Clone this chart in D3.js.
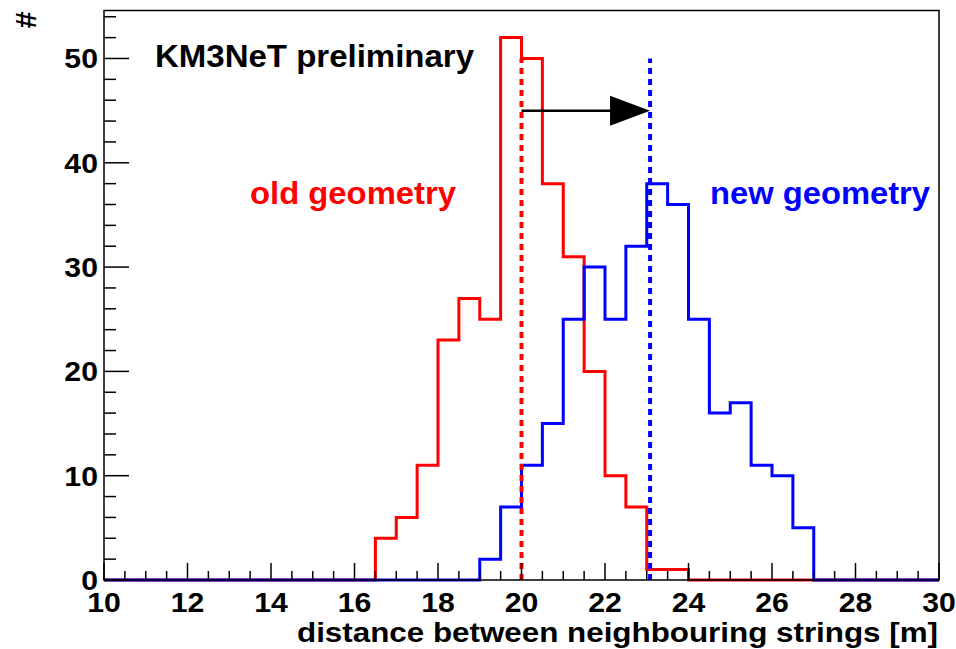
<!DOCTYPE html>
<html>
<head>
<meta charset="utf-8">
<script src="https://cdn.jsdelivr.net/npm/d3@7"></script>
<style>
  html, body { margin: 0; padding: 0; background: #fff; }
  svg { display: block; }
  text { font-family: "Liberation Sans", Arial, Helvetica, sans-serif; font-weight: bold; }
</style>
</head>
<body>
<svg id="chart" width="956" height="649"></svg>
<script>
// Histogram binning: 40 bins of 0.5 m between 10 and 30 m
const xLow = 10, xHigh = 30, binWidth = 0.5;
const binEdges = d3.range(xLow, xHigh + binWidth / 2, binWidth);

// Entries per bin (distance between neighbouring strings)
const oldGeometry = [
  0, 0, 0, 0, 0, 0, 0, 0, 0, 0, 0, 0, 0,
  4, 6, 11, 23, 27, 25, 52, 50, 38, 31, 20, 10, 7, 1, 1,
  0, 0, 0, 0, 0, 0, 0, 0, 0, 0, 0, 0
];
const newGeometry = [
  0, 0, 0, 0, 0, 0, 0, 0, 0, 0, 0, 0, 0, 0, 0, 0, 0, 0,
  2, 7, 11, 15, 25, 30, 25, 32, 38, 36, 25, 16, 17, 11, 10, 5,
  0, 0, 0, 0, 0, 0
];

// Mean distances, drawn as dotted markers, and the shift arrow height
const oldMean = 20.0;
const newMean = 23.08;
const markerTop = 50;
const arrowLevel = 45;

// Axis settings
const xTicks = [10, 12, 14, 16, 18, 20, 22, 24, 26, 28, 30];
const yTicks = [0, 10, 20, 30, 40, 50];
const yMax = 54.6;

const labels = {
  title: "KM3NeT preliminary",
  oldLabel: "old geometry",
  newLabel: "new geometry",
  xTitle: "distance between neighbouring strings [m]",
  yTitle: "#"
};

const RED = "#ff0000", BLUE = "#0000ff";

const svg = d3.select("#chart");
const frame = { left: 104, right: 939, top: 10.5, bottom: 580 };

const x = d3.scaleLinear().domain([xLow, xHigh]).range([frame.left, frame.right]);
const y = d3.scaleLinear().domain([0, yMax]).range([frame.bottom, frame.top]);

// Bold text slightly widened, as in the ROOT canvas output
function wideText(sel, sx) {
  return sel.attr("transform", function () {
    const tx = +this.getAttribute("x"), ty = +this.getAttribute("y");
    return `translate(${tx},${ty}) scale(${sx},1) translate(${-tx},${-ty})`;
  });
}

// Histogram outlines as step lines
function stepPoints(values) {
  const pts = values.map((v, i) => [binEdges[i], v]);
  pts.push([binEdges[binEdges.length - 1], values[values.length - 1]]);
  return pts;
}
const stepLine = d3.line()
  .x(d => x(d[0]))
  .y(d => y(d[1]))
  .curve(d3.curveStepAfter);

svg.append("path")
  .attr("d", stepLine(stepPoints(oldGeometry)))
  .attr("fill", "none")
  .attr("stroke", RED)
  .attr("stroke-width", 3);

svg.append("path")
  .attr("d", stepLine(stepPoints(newGeometry)))
  .attr("fill", "none")
  .attr("stroke", BLUE)
  .attr("stroke-width", 3);

// Dotted mean markers
svg.append("line")
  .attr("x1", x(oldMean)).attr("x2", x(oldMean))
  .attr("y1", y(0)).attr("y2", y(markerTop))
  .attr("stroke", RED).attr("stroke-width", 4)
  .attr("stroke-dasharray", "6,5");
svg.append("line")
  .attr("x1", x(newMean)).attr("x2", x(newMean))
  .attr("y1", y(0)).attr("y2", y(markerTop))
  .attr("stroke", BLUE).attr("stroke-width", 4)
  .attr("stroke-dasharray", "6,5");

// Arrow showing the shift of the mean distance
const headLen = 40, headHalf = 15;
svg.append("line")
  .attr("x1", x(oldMean)).attr("x2", x(newMean) - headLen + 2)
  .attr("y1", y(arrowLevel)).attr("y2", y(arrowLevel))
  .attr("stroke", "#000").attr("stroke-width", 2.5);
svg.append("path")
  .attr("d", `M${x(newMean)},${y(arrowLevel)}L${x(newMean) - headLen},${y(arrowLevel) - headHalf}L${x(newMean) - headLen},${y(arrowLevel) + headHalf}Z`)
  .attr("fill", "#000");

// Frame
svg.append("rect")
  .attr("x", frame.left).attr("y", frame.top)
  .attr("width", frame.right - frame.left)
  .attr("height", frame.bottom - frame.top)
  .attr("fill", "none").attr("stroke", "#000").attr("stroke-width", 1.5);

// X axis: major ticks every 2, minor every 0.5
const xAxis = svg.append("g");
const xMinor = d3.range(xLow, xHigh + 0.01, 0.5);
xAxis.selectAll("line.minor").data(xMinor).join("line")
  .attr("x1", d => x(d)).attr("x2", d => x(d))
  .attr("y1", frame.bottom)
  .attr("y2", d => xTicks.includes(d) ? frame.bottom - 17 : frame.bottom - 9)
  .attr("stroke", "#000").attr("stroke-width", 1.5);
xAxis.selectAll("text").data(xTicks).join("text")
  .attr("x", d => x(d)).attr("y", 612)
  .attr("text-anchor", "middle")
  .attr("font-size", 27)
  .text(d => d)
  .call(wideText, 1.12);

// Y axis: major ticks every 10, minor every 2
const yAxis = svg.append("g");
const yMinor = d3.range(0, yMax, 2);
yAxis.selectAll("line").data(yMinor).join("line")
  .attr("x1", frame.left)
  .attr("x2", d => yTicks.includes(d) ? frame.left + 25 : frame.left + 12)
  .attr("y1", d => y(d)).attr("y2", d => y(d))
  .attr("stroke", "#000").attr("stroke-width", 1.5);
yAxis.selectAll("text").data(yTicks).join("text")
  .attr("x", 98).attr("y", d => y(d) + 10)
  .attr("text-anchor", "end")
  .attr("font-size", 27)
  .text(d => d)
  .call(wideText, 1.12);

// Axis titles
svg.append("text")
  .attr("x", 938).attr("y", 642)
  .attr("text-anchor", "end")
  .attr("font-size", 28)
  .attr("textLength", 641)
  .attr("lengthAdjust", "spacingAndGlyphs")
  .text(labels.xTitle);
svg.append("text")
  .attr("transform", "translate(36,20) rotate(-90)")
  .attr("text-anchor", "middle")
  .attr("font-size", 30)
  .text(labels.yTitle);

// Annotations
svg.append("text")
  .attr("x", 155).attr("y", 67)
  .attr("font-size", 31)
  .attr("fill", "#000")
  .attr("textLength", 319)
  .attr("lengthAdjust", "spacingAndGlyphs")
  .text(labels.title);
svg.append("text")
  .attr("x", 250).attr("y", 204)
  .attr("font-size", 31)
  .attr("fill", RED)
  .attr("textLength", 206)
  .attr("lengthAdjust", "spacingAndGlyphs")
  .text(labels.oldLabel);
svg.append("text")
  .attr("x", 710).attr("y", 204)
  .attr("font-size", 31)
  .attr("fill", BLUE)
  .attr("textLength", 220)
  .attr("lengthAdjust", "spacingAndGlyphs")
  .text(labels.newLabel);
</script>
</body>
</html>
